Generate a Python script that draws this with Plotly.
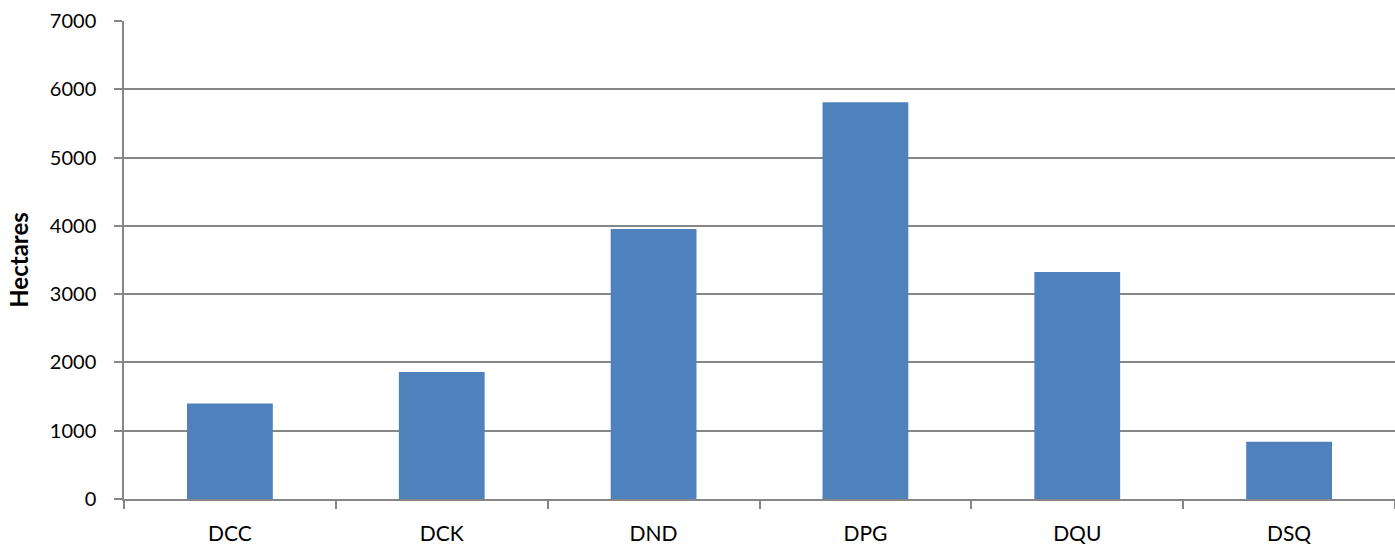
import plotly.graph_objects as go

categories = ["DCC", "DCK", "DND", "DPG", "DQU", "DSQ"]
hectares = [1400, 1860, 3955, 5810, 3325, 840]
y_ticks = [0, 1000, 2000, 3000, 4000, 5000, 6000, 7000]

fig = go.Figure()
fig.add_trace(go.Bar(
    x=categories, y=hectares,
    marker=dict(color="#4F81BD", line=dict(width=0)),
    width=0.405,
))

font_family = "Lato, 'Open Sans', sans-serif"
fig.update_layout(
    width=1395, height=545,
    margin=dict(l=124, r=0, t=21, b=46),
    plot_bgcolor="white", paper_bgcolor="white",
    showlegend=False,
    font=dict(family=font_family, size=18, color="black"),
)
fig.update_xaxes(
    type="category",
    showline=True, linecolor="#868686", linewidth=1.5,
    ticks="outside", ticklen=8, tickcolor="#868686", tickwidth=1.5,
    tickson="boundaries",
    showgrid=False,
    ticklabelstandoff=15,
    tickfont=dict(size=21),
    range=[-0.5, 5.5],
)
fig.update_yaxes(
    range=[0, 7000],
    tickvals=y_ticks,
    showline=True, linecolor="#868686", linewidth=1.5,
    ticks="outside", ticklen=8, tickcolor="#868686", tickwidth=1.5,
    showgrid=True, gridcolor="#868686", gridwidth=1.5,
    zeroline=False,
    ticklabelstandoff=14,
    title=dict(text="<b>Hectares</b>", font=dict(size=24), standoff=14),
    tickfont=dict(size=20),
)

fig.write_html(
    "out.html",
    config={"displayModeBar": False},
    post_script="document.body.style.margin='0';document.body.style.overflow='hidden';",
)
